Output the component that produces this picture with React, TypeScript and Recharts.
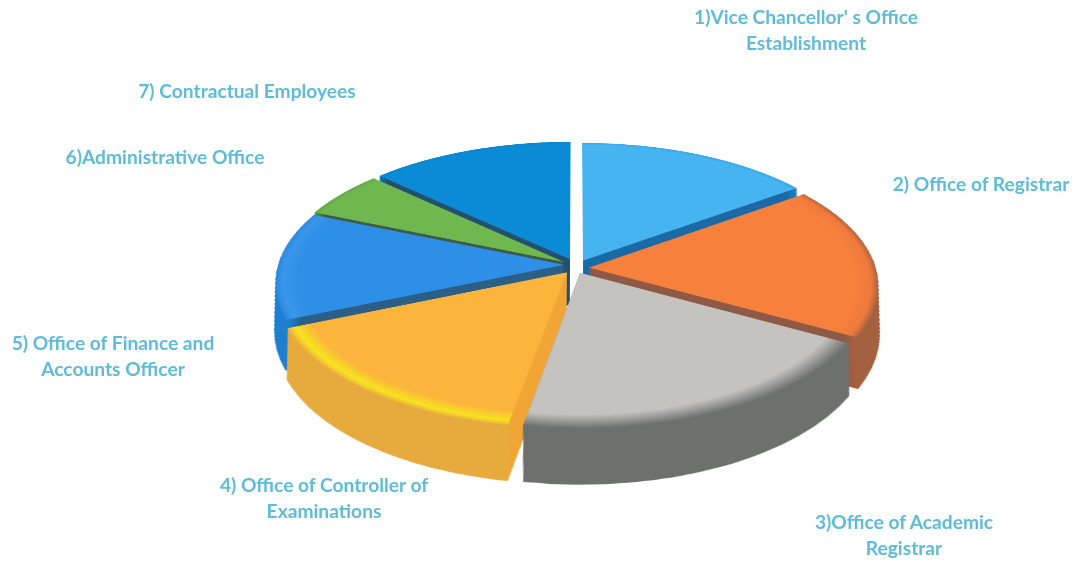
import { Pie, PieChart } from 'recharts';

const offices = ['Vice Chancellor', 'Registrar', 'Academic Registrar', 'Controller', 'Finance', 'Administrative', 'Contractual'];
const shares = [15.0, 18.1, 19.7, 15.8, 12.8, 5.6, 13.0];

const topColors = ['#45b4f0', '#f7803c', '#c4c3bf', '#fbb53c', '#2e8fe6', '#6fb84f', '#0b8bd6'];
const rimColors = ['#45b4f0', '#f07a3e', '#8a8b89', '#f6e41e', '#3a96ea', '#6fb84f', '#0b8bd6'];
const edgeColors = ['#3aa6e6', '#b0653f', '#6e706e', '#eeb53a', '#2a88dc', '#62a847', '#0b83cc'];
const sideColors = ['#1c7fc0', '#a5603f', '#6e706e', '#e7ab3d', '#1d7fd0', '#4f8a3a', '#0a6fb0'];
const wallColors = ['#1c6aa5', '#8f5a45', '#6c6e6c', '#f0a535', '#2b5f86', '#3f5a45', '#24506e'];

const labelLines = [
  ["1)Vice Chancellor' s Office", 'Establishment'],
  ['2) Office of Registrar'],
  ['3)Office of Academic', 'Registrar'],
  ['4) Office of Controller of', 'Examinations'],
  ['5) Office of Finance and', 'Accounts Officer'],
  ['6)Administrative Office'],
  ['7) Contractual Employees'],
];

// pull-out of each slice on the tilted plane, paint order is back to front
const explodeX = [8, 14, 5, -8, -11, -11, -5];
const explodeY = [-3, 12, 23, 22, 6, 0, -6];
const paintOrder = [6, 5, 0, 4, 1, 3, 2];
const labelCenters = [
  [806, 4],
  [981, 171],
  [904, 509],
  [324, 472],
  [113, 330],
  [165, 144],
  [247, 78],
];

const PLANE = 1000;
const CENTER = PLANE / 2;
const RADIUS = 285;
const DEPTH = 98;
const STEP = 1;
// lower layers shrink a little so the perspective keeps the sides upright
const TAPER = 0.12;
const layers: number[] = [];
for (let d = DEPTH; d > 0; d -= STEP) layers.push(d);

const pieData = (slice: number, fill: string) =>
  offices.map((name, i) => ({ name, value: shares[i], fill: i === slice ? fill : 'none' }));

export default function App() {
  return (
    <div style={{ position: 'absolute', left: 0, top: 0, width: 1078, height: 564, overflow: 'hidden', background: '#fff' }}>
      <div
        style={{
          position: 'absolute',
          left: 575 - CENTER,
          top: 262 - CENTER,
          width: PLANE,
          height: PLANE,
          transform: 'perspective(2000px) rotateX(62.2deg)',
          filter: 'blur(0.6px)',
        }}
      >
        <PieChart width={PLANE} height={PLANE} margin={{ top: 0, right: 0, bottom: 0, left: 0 }}>
          <defs>
            {paintOrder.map((s) => (
              <radialGradient
                key={`top-${s}`}
                id={`top-${s}`}
                gradientUnits="userSpaceOnUse"
                cx={CENTER + explodeX[s]}
                cy={CENTER + explodeY[s]}
                r={RADIUS}
              >
                <stop offset="0.92" stopColor={topColors[s]} />
                <stop offset="0.975" stopColor={rimColors[s]} />
                <stop offset="1" stopColor={edgeColors[s]} />
              </radialGradient>
            ))}
            {paintOrder.map((s) =>
              layers.map((d) => (
                <radialGradient
                  key={`side-${s}-${d}`}
                  id={`side-${s}-${d}`}
                  gradientUnits="userSpaceOnUse"
                  cx={CENTER + explodeX[s]}
                  cy={CENTER + explodeY[s] + d}
                  r={RADIUS - TAPER * d}
                >
                  <stop offset="0.95" stopColor={wallColors[s]} />
                  <stop offset="0.99" stopColor={sideColors[s]} />
                </radialGradient>
              )),
            )}
          </defs>
          {paintOrder.map((s) => [
            ...layers.map((d) => (
              <Pie
                key={`side-${s}-${d}`}
                data={pieData(s, `url(#side-${s}-${d})`)}
                dataKey="value"
                cx={CENTER + explodeX[s]}
                cy={CENTER + explodeY[s] + d}
                outerRadius={RADIUS - TAPER * d}
                startAngle={90}
                endAngle={-270}
                stroke="none"
                isAnimationActive={false}
              />
            )),
            <Pie
              key={`top-${s}`}
              data={pieData(s, `url(#top-${s})`)}
              dataKey="value"
              cx={CENTER + explodeX[s]}
              cy={CENTER + explodeY[s]}
              outerRadius={RADIUS}
              startAngle={90}
              endAngle={-270}
              stroke="none"
              isAnimationActive={false}
            />,
          ])}
        </PieChart>
      </div>
      {labelLines.map((lines, i) => (
        <div
          key={lines[0]}
          style={{
            position: 'absolute',
            left: labelCenters[i][0] - 160,
            top: labelCenters[i][1],
            width: 320,
            textAlign: 'center',
            fontFamily: 'Lato, sans-serif',
            fontWeight: 700,
            fontSize: 19.2,
            lineHeight: '25.5px',
            color: '#5fbcd8',
            filter: 'blur(0.4px)',
          }}
        >
          {lines.map((line) => (
            <div key={line}>{line}</div>
          ))}
        </div>
      ))}
    </div>
  );
}
